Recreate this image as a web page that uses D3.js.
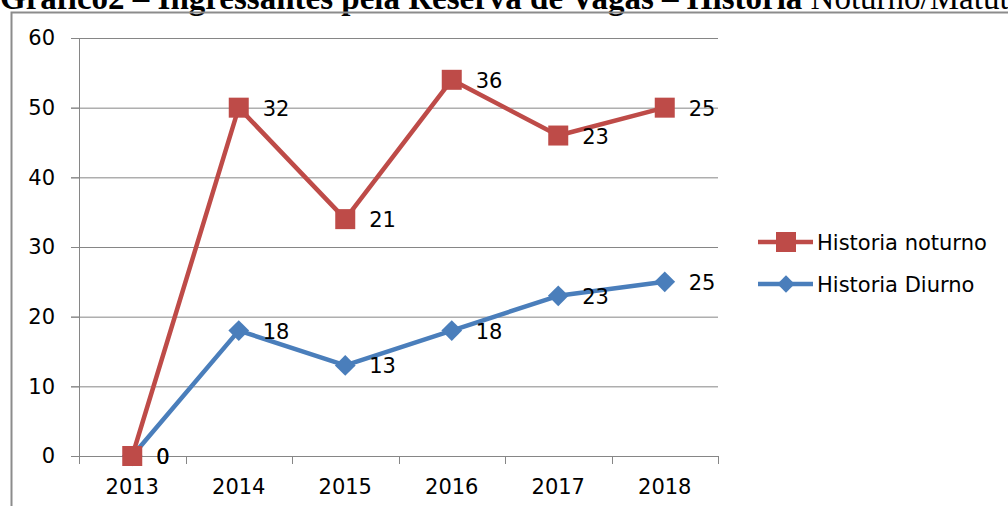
<!DOCTYPE html>
<html>
<head>
<meta charset="utf-8">
<script src="https://cdn.jsdelivr.net/npm/d3@7"></script>
<style>
  body { margin: 0; background: #fff; }
  svg { display: block; }
</style>
</head>
<body>
<div id="chart"></div>
<script>
const years = ["2013", "2014", "2015", "2016", "2017", "2018"];
const diurno = [0, 18, 13, 18, 23, 25];
const noturno = [0, 32, 21, 36, 23, 25];
const yTicks = [0, 10, 20, 30, 40, 50, 60];
const seriesNames = ["Historia noturno", "Historia Diurno"];

const W = 1008, H = 506;
const margin = { top: 38, right: 290, bottom: 50, left: 79 };
const width = W - margin.left - margin.right;
const height = H - margin.top - margin.bottom;

const svg = d3.select("#chart").append("svg")
    .attr("width", W)
    .attr("height", H);

// titulo (cortado no topo)
const title = svg.append("text")
    .attr("x", 0)
    .attr("y", 9)
    .style("font-family", "'Liberation Serif', 'Times New Roman', serif")
    .style("font-size", "33px")
    .style("font-weight", "bold")
    .attr("fill", "#000");
title.append("tspan").text("Gráfico2 – Ingressantes pela Reserva de Vagas – Historia ");
title.append("tspan").style("font-weight", "normal").text("Noturno/Matutino");

// moldura do grafico
svg.append("path")
    .attr("d", `M11.5,${H} V12.5 H${W}`)
    .attr("fill", "none")
    .attr("stroke", "#8c8c8c")
    .attr("stroke-width", 2);

const g = svg.append("g")
    .attr("transform", `translate(${margin.left},${margin.top})`);

const x = d3.scaleBand().domain(years).range([0, width]);
const y = d3.scaleLinear().domain([0, 60]).range([height, 0]);

// grade
g.selectAll(".grid")
    .data(yTicks)
    .enter().append("line")
    .attr("x1", -8)
    .attr("x2", width)
    .attr("y1", d => y(d) + 0.5)
    .attr("y2", d => y(d) + 0.5)
    .attr("stroke", "#868686")
    .attr("stroke-width", 1);

const font = "'DejaVu Sans', Verdana, sans-serif";
const fs = "21px";

// eixo y
const yAxis = g.append("g")
    .call(d3.axisLeft(y).tickValues(yTicks).tickSize(8).tickPadding(16));
yAxis.select(".domain").attr("stroke", "#868686");
yAxis.selectAll("line").attr("stroke", "#868686");
yAxis.selectAll("text")
    .style("font-family", font)
    .style("font-size", fs)
    .attr("fill", "#000");

// eixo x
const xAxis = g.append("g")
    .attr("transform", `translate(0,${height})`)
    .call(d3.axisBottom(x).tickSize(0).tickPadding(23));
xAxis.select(".domain").attr("stroke", "#868686");
xAxis.selectAll("text")
    .style("font-family", font)
    .style("font-size", fs)
    .attr("fill", "#000");
g.append("g").selectAll("line")
    .data(d3.range(years.length + 1))
    .enter().append("line")
    .attr("x1", i => Math.round(i * x.bandwidth()) + 0.5)
    .attr("x2", i => Math.round(i * x.bandwidth()) + 0.5)
    .attr("y1", height)
    .attr("y2", height + 8)
    .attr("stroke", "#868686");

// linhas empilhadas
const cx = (d, i) => x(years[i]) + x.bandwidth() / 2;
const stackedNoturno = noturno.map((v, i) => v + diurno[i]);

const line = d3.line().x(cx).y(d => y(d));

const blue = "#4A7EBB", red = "#BE4B48";

g.append("path").datum(diurno)
    .attr("d", line)
    .attr("fill", "none")
    .attr("stroke", blue)
    .attr("stroke-width", 4.5)
    .attr("stroke-linejoin", "round");

g.selectAll(".diamond")
    .data(diurno)
    .enter().append("path")
    .attr("d", d3.symbol().type(d3.symbolSquare).size(215))
    .attr("transform", (d, i) => `translate(${cx(d, i)},${y(d)}) rotate(45)`)
    .attr("fill", blue);

g.append("path").datum(stackedNoturno)
    .attr("d", line)
    .attr("fill", "none")
    .attr("stroke", red)
    .attr("stroke-width", 4.5)
    .attr("stroke-linejoin", "round");

g.selectAll(".square")
    .data(stackedNoturno)
    .enter().append("rect")
    .attr("x", (d, i) => cx(d, i) - 10)
    .attr("y", d => y(d) - 10)
    .attr("width", 20)
    .attr("height", 20)
    .attr("fill", red);

// rotulos de dados
g.selectAll(".lblD")
    .data(diurno)
    .enter().append("text")
    .attr("x", (d, i) => cx(d, i) + 24)
    .attr("y", d => y(d) + 8)
    .style("font-family", font)
    .style("font-size", fs)
    .attr("fill", "#000")
    .text(d => d);

g.selectAll(".lblN")
    .data(noturno)
    .enter().append("text")
    .attr("x", (d, i) => cx(d, i) + 24)
    .attr("y", (d, i) => y(stackedNoturno[i]) + 8)
    .style("font-family", font)
    .style("font-size", fs)
    .attr("fill", "#000")
    .text(d => d);

// legenda
const legend = svg.append("g").attr("transform", "translate(758,242)");
const colors = [red, blue];
seriesNames.forEach((name, i) => {
    const row = legend.append("g").attr("transform", `translate(0,${i * 42})`);
    row.append("line")
        .attr("x1", 0).attr("x2", 55)
        .attr("stroke", colors[i])
        .attr("stroke-width", 4.5);
    if (i === 0) {
        row.append("rect")
            .attr("x", 18).attr("y", -10)
            .attr("width", 20).attr("height", 20)
            .attr("fill", red);
    } else {
        row.append("path")
            .attr("d", d3.symbol().type(d3.symbolSquare).size(150))
            .attr("transform", "translate(28,0) rotate(45)")
            .attr("fill", blue);
    }
    row.append("text")
        .attr("x", 59)
        .attr("y", 8)
        .style("font-family", font)
        .style("font-size", fs)
        .attr("fill", "#000")
        .text(name);
});
</script>
</body>
</html>
